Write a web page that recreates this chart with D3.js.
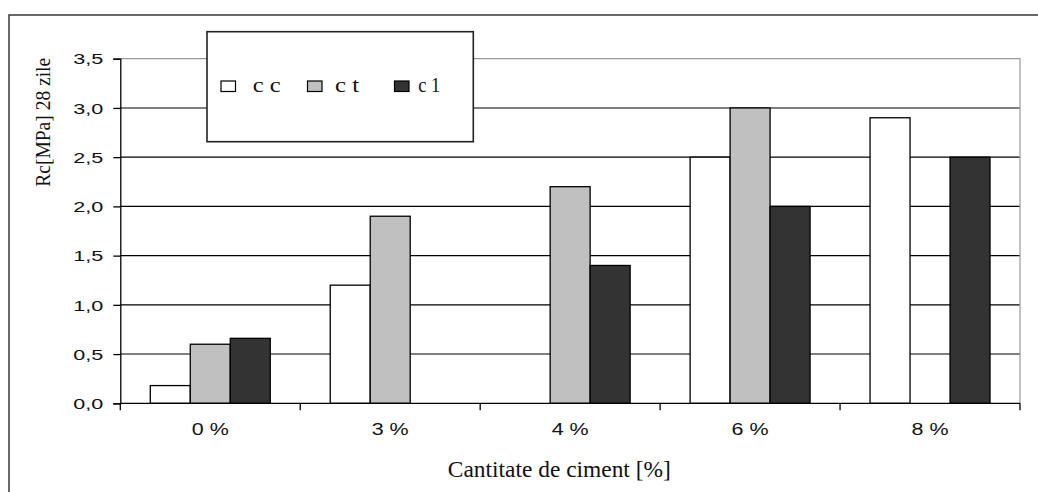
<!DOCTYPE html>
<html>
<head>
<meta charset="utf-8">
<script src="https://cdn.jsdelivr.net/npm/d3@7"></script>
<style>
  html, body { margin: 0; padding: 0; background: #fff; }
  svg { display: block; }
</style>
</head>
<body>
<svg id="chart" width="1038" height="492"></svg>
<script>
// Compressive strength at 28 days vs. cement content
const categories = ["0 %", "3 %", "4 %", "6 %", "8 %"];
const seriesNames = ["c c", "c t", "c1"];
const seriesLabels = ["c c", "c t", "c 1"];
const ccValues = [0.18, 1.2, null, 2.5, 2.9];
const ctValues = [0.6, 1.9, 2.2, 3.0, null];
const c1Values = [0.66, null, 1.4, 2.0, 2.5];
const yTicks = [0, 0.5, 1.0, 1.5, 2.0, 2.5, 3.0, 3.5];
const seriesFill = ["#ffffff", "#c0c0c0", "#333333"];

const seriesValues = [ccValues, ctValues, c1Values];

const svg = d3.select("#chart");
const plot = { left: 120.3, right: 1020, top: 58.7, bottom: 403.3 };

const x = d3.scaleBand().domain(categories).range([plot.left, plot.right]).padding(0);
const xs = d3.scaleBand().domain(seriesNames).range([0, x.bandwidth()])
  .paddingInner(0).paddingOuter(0.75);
const y = d3.scaleLinear().domain([0, 3.5]).range([plot.bottom, plot.top]);

const fmt = v => d3.format(".1f")(v).replace(".", ",");

// outer frame
svg.append("rect")
  .attr("x", 9).attr("y", 15).attr("width", 1060).attr("height", 500)
  .attr("fill", "#fff").attr("stroke", "#444").attr("stroke-width", 1.6);

// horizontal gridlines
svg.append("g").selectAll("line")
  .data(yTicks.filter(t => t > 0 && t < 3.5))
  .join("line")
  .attr("x1", plot.left).attr("x2", plot.right)
  .attr("y1", d => y(d)).attr("y2", d => y(d))
  .attr("stroke", "#000").attr("stroke-width", 1.1);

// plot area border (top and right)
svg.append("path")
  .attr("d", `M${plot.left},${y(3.5)}H${plot.right}V${plot.bottom}`)
  .attr("fill", "none").attr("stroke", "#9a9a9a").attr("stroke-width", 1.2);

// bars
const rows = [];
categories.forEach((c, i) => {
  seriesNames.forEach((s, j) => {
    const v = seriesValues[j][i];
    if (v != null) rows.push({ c, s, v, j });
  });
});
svg.append("g").selectAll("rect")
  .data(rows)
  .join("rect")
  .attr("x", d => x(d.c) + xs(d.s))
  .attr("y", d => y(d.v))
  .attr("width", xs.bandwidth())
  .attr("height", d => y(0) - y(d.v))
  .attr("fill", d => seriesFill[d.j])
  .attr("stroke", "#000").attr("stroke-width", 1.3);

// y axis
const yAxis = d3.axisLeft(y).tickValues(yTicks).tickSize(7).tickFormat(fmt);
const gy = svg.append("g").attr("transform", `translate(${plot.left},0)`).call(yAxis);
gy.select(".domain").attr("stroke", "#000").attr("stroke-width", 1.3);
gy.selectAll(".tick line").attr("stroke", "#000").attr("stroke-width", 1.3);
gy.selectAll(".tick text")
  .attr("x", -17).attr("dy", "0.36em")
  .attr("font-family", "Liberation Sans, Arial, sans-serif")
  .attr("font-size", 14.5).attr("fill", "#111")
  .attr("textLength", 30).attr("lengthAdjust", "spacingAndGlyphs");

// x axis: ticks at category boundaries, labels at category centres
const xAxisG = svg.append("g").attr("transform", `translate(0,${plot.bottom})`);
xAxisG.append("line")
  .attr("x1", plot.left).attr("x2", plot.right)
  .attr("stroke", "#000").attr("stroke-width", 1.3);
const boundaries = categories.map(c => x(c)).concat([plot.right]);
xAxisG.selectAll("line.tick")
  .data(boundaries)
  .join("line").attr("class", "tick")
  .attr("x1", d => d).attr("x2", d => d)
  .attr("y1", 0).attr("y2", 7)
  .attr("stroke", "#000").attr("stroke-width", 1.3);
xAxisG.selectAll("text")
  .data(categories)
  .join("text")
  .attr("x", d => x(d) + x.bandwidth() / 2)
  .attr("y", 31.5)
  .attr("text-anchor", "middle")
  .attr("font-family", "Liberation Sans, Arial, sans-serif")
  .attr("font-size", 17).attr("fill", "#111")
  .attr("textLength", 37).attr("lengthAdjust", "spacingAndGlyphs")
  .text(d => d);

// axis titles
svg.append("text")
  .attr("x", 559.3).attr("y", 476.5)
  .attr("text-anchor", "middle")
  .attr("font-family", "Liberation Serif, Times New Roman, serif")
  .attr("font-size", 24).attr("fill", "#111")
  .attr("textLength", 223).attr("lengthAdjust", "spacingAndGlyphs")
  .text("Cantitate de ciment [%]");

svg.append("text")
  .attr("transform", "translate(50,122.3) rotate(-90)")
  .attr("text-anchor", "middle")
  .attr("font-family", "Liberation Serif, Times New Roman, serif")
  .attr("font-size", 21.5).attr("fill", "#111")
  .attr("textLength", 129).attr("lengthAdjust", "spacingAndGlyphs")
  .text("Rc[MPa] 28 zile");

// legend
const legend = svg.append("g");
legend.append("rect")
  .attr("x", 207).attr("y", 31.7).attr("width", 266.3).attr("height", 110)
  .attr("fill", "#fff").attr("stroke", "#222").attr("stroke-width", 1.6);
const legendSwatchX = [221, 307.5, 394.5];
const legendTextX = [252.7, 335, 418.3];
const legendTextW = [28, 24, 22];
seriesNames.forEach((s, j) => {
  legend.append("rect")
    .attr("x", legendSwatchX[j]).attr("y", 81)
    .attr("width", 14.5).attr("height", 10.5)
    .attr("fill", seriesFill[j]).attr("stroke", "#000").attr("stroke-width", 1.2);
  legend.append("text")
    .attr("x", legendTextX[j]).attr("y", 91.5)
    .attr("font-family", "Liberation Serif, Times New Roman, serif")
    .attr("font-size", 21).attr("fill", "#111")
    .attr("textLength", legendTextW[j]).attr("lengthAdjust", "spacingAndGlyphs")
    .text(seriesLabels[j]);
});
</script>
</body>
</html>
